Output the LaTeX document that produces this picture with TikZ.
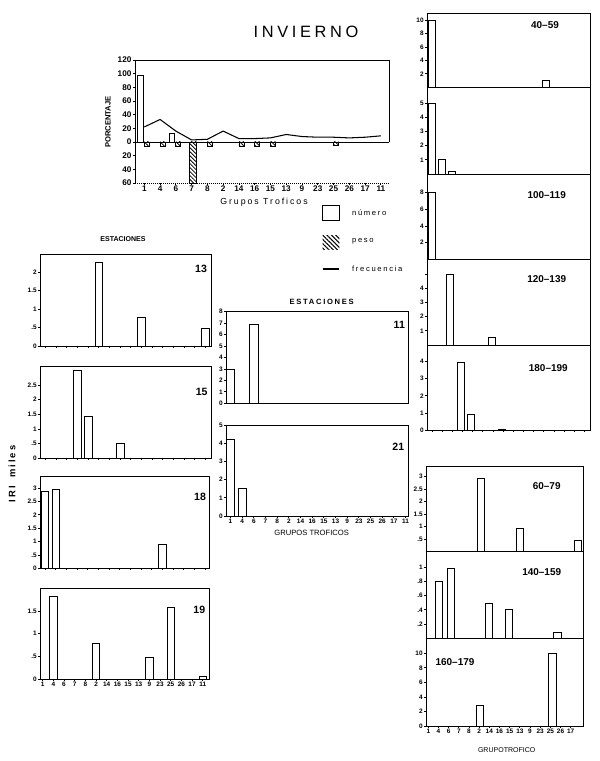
\documentclass[tikz,border=0pt]{standalone}
\usepackage{fontspec}
\setmainfont{Liberation Sans}
\newfontfamily\spacedfont[LetterSpace=22]{Liberation Sans}
\usetikzlibrary{patterns.meta}
\tikzset{
  frame/.style={line width=0.7pt},
  iribar/.style={draw,fill=white,line width=0.7pt},
  pesobar/.style={draw,line width=0.6pt,pattern={Lines[angle=-45,distance=2.4pt,line width=0.7pt]}},
  ticklbl/.style={font=\fontsize{5.5}{6}\selectfont\bfseries,inner sep=0.8pt},
  toplbl/.style={font=\fontsize{7}{8}\selectfont\bfseries,inner sep=1pt},
  stationlbl/.style={font=\fontsize{9}{10}\selectfont\bfseries},
  rangelbl/.style={font=\fontsize{8.5}{9}\selectfont\bfseries},
  headlbl/.style={font=\fontsize{6}{7}\selectfont\bfseries},
  legendlbl/.style={font=\spacedfont\fontsize{6.5}{7}\selectfont,anchor=west},
}
% bar panel: left, zero line, width, px per unit, top value, y ticks, first bar, bar step, bars
\newcommand{\iripanel}[9]{%
  \begin{scope}[shift={(#1,#2)},yscale=-#4]
    \draw[frame] (0,0) rectangle (#3,#5);
    \foreach \v/\t in {#6}
      \draw[frame] (0,\v) -- ++(-2,0) node[left,ticklbl] {\t};
    \foreach \i/\h in {#9}
      \draw[iribar] ({#7+#8*\i-0.35*#8},0) rectangle ({#7+#8*\i+0.35*#8},\h);
  \end{scope}}

\begin{document}
\begin{tikzpicture}[x=0.03cm,y=-0.03cm]
  \useasboundingbox (0,0) rectangle (600,761);
  \node[font=\spacedfont\fontsize{14}{16}\selectfont] (title) at (306,32) {INVIERNO};
  % porcentaje
  \begin{scope}[shift={(135,142)},yscale=-0.683]
    \pgfmathsetmacro{\catx}{9.3}
    \pgfmathsetmacro{\catstep}{15.77}
    \draw[frame] (0,-60) -- (0,120) -- (254,120) -- (254,0);
    \draw[frame] (0,0) -- (254,0);
    \draw[frame,densely dotted] (0,-60) -- (254,-60);
    \foreach \v/\t in {120/120,100/100,80/80,60/60,40/40,20/20,0/0,-20/20,-40/40,-60/60}
      \draw[frame] (0,\v) -- ++(-2,0) node[left,toplbl] {\t};
    \foreach \c [count=\i from 0] in {1,4,6,7,8,2,14,16,15,13,9,23,25,26,17,11}
      \draw[frame] ({\catx+\catstep*\i},-60) -- ++(0,-2.5) node[below,toplbl] {\c};
    \foreach \i/\h in {0/97,2/12}
      \draw[iribar] ({\catx+\catstep*\i-6.5},0) rectangle ({\catx+\catstep*\i-1},\h);
    \foreach \i/\h in {0/-6,1/-6,2/-7,4/-6,6/-6,7/-6,8/-6,12/-5}
      \draw[pesobar] ({\catx+\catstep*\i},0) rectangle ({\catx+\catstep*\i+5},\h);
    \draw[pesobar] ({\catx+\catstep*3-2},0) rectangle ({\catx+\catstep*3+5},-60);
    \draw[line width=0.9pt] (\catx,22)
      \foreach \i/\h in {1/33,2/16,3/3,4/4,5/16,6/5,7/5,8/6,9/11,10/8,11/7,12/7,13/6,14/7,15/9} { -- ({\catx+\catstep*\i},\h) };
  \end{scope}
  \node[rotate=90,font=\fontsize{6.5}{7}\selectfont\bfseries] (porc) at (108,122) {PORCENTAJE};
  \node[font=\spacedfont\fontsize{7.5}{8}\selectfont] (grupos) at (264,202) {Grupos Troficos};
  % leyenda
  \draw[frame] (322.7,205) rectangle (339.3,220.7);
  \node[legendlbl] (num) at (348,212.7) {número};
  \fill[pattern={Lines[angle=-45,distance=2.6pt,line width=0.9pt]}] (322.7,235) rectangle (339.3,249.3);
  \node[legendlbl] (peso) at (348,241) {peso};
  \draw[line width=1pt] (322.7,269) -- (339.3,269);
  \node[legendlbl] (frec) at (348,269) {frecuencia};
  % estaciones izquierda
  \node[headlbl] (est1) at (123,239.3) {ESTACIONES};
  \node[rotate=90,font=\spacedfont\fontsize{8}{9}\selectfont\bfseries] (iri) at (12,474) {IRI\hspace{7pt}miles};
  \iripanel{40}{346}{171}{36.8}{2.5}{0/0,0.5/.5,1/1,1.5/1.5,2/2}{5.5}{10.67}{5/2.26,9/0.79,15/0.48}
  \foreach \i in {0,...,15} \draw[frame] ({45.5+10.67*\i},346) -- ++(0,1.5);
  \node[stationlbl] (st13) at (201,269) {13};
  \iripanel{40}{458.3}{171}{29.3}{3.15}{0/0,0.5/.5,1/1,1.5/1.5,2/2,2.5/2.5}{5.5}{10.67}{3/3.0,4/1.42,7/0.5}
  \foreach \i in {0,...,15} \draw[frame] ({45.5+10.67*\i},458.3) -- ++(0,1.5);
  \node[stationlbl] (st15) at (201.7,392.3) {15};
  \iripanel{40}{568.3}{169.5}{26.7}{3.46}{0/0,0.5/.5,1/1,1.5/1.5,2/2,2.5/2.5,3/3}{5}{10.67}{0/2.87,1/2.96,11/0.9}
  \foreach \i in {0,...,15} \draw[frame] ({45+10.67*\i},568.3) -- ++(0,1.5);
  \node[stationlbl] (st18) at (200,496.7) {18};
  \iripanel{40}{679}{169.5}{45.3}{2.0}{0/0,0.5/.5,1/1,1.5/1.5}{2.7}{10.67}{1/1.82,5/0.79,10/0.48,12/1.58,15/0.05}
  \foreach \c [count=\i from 0] in {1,4,6,7,8,2,14,16,15,13,9,23,25,26,17,11}
    \draw[frame] ({42.7+10.67*\i},679) -- ++(0,1.5) node[below,ticklbl] {\c};
  \node[stationlbl] (st19) at (199.3,610) {19};
  % estaciones centro
  \node[font=\spacedfont\fontsize{6.5}{7}\selectfont\bfseries] (est2) at (321.7,301.7) {ESTACIONES};
  \iripanel{226}{403.3}{182.5}{11.46}{8}{0/0,1/1,2/2,3/3,4/4,5/5,6/6,7/7,8/8}{4.5}{11.67}{0/3,2/6.9}
  \node[stationlbl] (st11) at (399.3,325) {11};
  \iripanel{226}{516}{182.5}{18.2}{5}{0/0,1/1,2/2,3/3,4/4,5/5}{4.5}{11.67}{0/4.2,1/1.52}
  \foreach \c [count=\i from 0] in {1,4,6,7,8,2,14,16,15,13,9,23,25,26,17,11}
    \draw[frame] ({230.5+11.67*\i},516) -- ++(0,1.5) node[below,ticklbl] {\c};
  \node[stationlbl] (st21) at (398.3,446.7) {21};
  \node[font=\fontsize{6.5}{7}\selectfont] (gt1) at (311.7,532.7) {GRUPOS TROFICOS};
  % tallas arriba
  \iripanel{427}{87.3}{163}{6.7}{11.05}{2/2,4/4,6/6,8/8,10/10}{5}{10.17}{0/10,11.2/1}
  \node[rangelbl] (t40) at (545,25) {40--59};
  \iripanel{427}{174}{163}{14.2}{6.1}{1/1,2/2,3/3,4/4,5/5}{5}{10.17}{0/5,1/1,2/0.2}
  \iripanel{427}{259.3}{163}{8.33}{10.24}{2/2,4/4,6/6,8/8}{5}{10.17}{0/8}
  \node[rangelbl] (t100) at (546.7,195) {100--119};
  \iripanel{427}{345}{163}{14.2}{6.04}{1/1,2/2,3/3,4/4,5/{}}{5}{10.17}{1.8/5,5.9/0.5}
  \node[rangelbl] (t120) at (546.7,279.3) {120--139};
  \iripanel{427}{430.7}{163}{17.4}{4.93}{0/0,1/1,2/2,3/3,4/4}{5}{10.17}{2.8/3.9,3.8/0.95,6.9/0.08}
  \foreach \i in {0,...,15} \draw[frame] ({432+10.17*\i},430.7) -- ++(0,1.5);
  \node[rangelbl] (t180) at (548.3,367.7) {180--199};
  % tallas abajo
  \iripanel{426}{551.7}{157}{25}{3.4}{0.5/.5,1/1,1.5/1.5,2/2,2.5/2.5,3/3}{2.3}{10.17}{5.2/2.95,9.05/0.95,14.7/0.45}
  \node[rangelbl] (t60) at (546.7,486) {60--79};
  \iripanel{426}{638.3}{157}{71}{1.22}{0.2/.2,0.4/.4,0.6/.6,0.8/.8,1/1}{2.3}{10.17}{1.07/0.8,2.2/0.99,6/0.49,7.9/0.4,12.7/0.08}
  \node[rangelbl] (t140) at (541.7,571.7) {140--159};
  \iripanel{426}{726}{157}{7.27}{12.06}{0/0,2/2,4/4,6/6,8/8,10/10}{2.3}{10.17}{5.1/2.9,12.2/10}
  \foreach \c [count=\i from 0] in {1,4,6,7,8,2,14,16,15,13,9,23,25,26,17}
    \draw[frame] ({428.3+10.17*\i},726) -- ++(0,1.5) node[below,ticklbl] {\c};
  \node[rangelbl] (t160) at (455,661.7) {160--179};
  \node[font=\fontsize{6}{7}\selectfont] (gt2) at (506.7,750) {GRUPOTROFICO};
\end{tikzpicture}
\end{document}
